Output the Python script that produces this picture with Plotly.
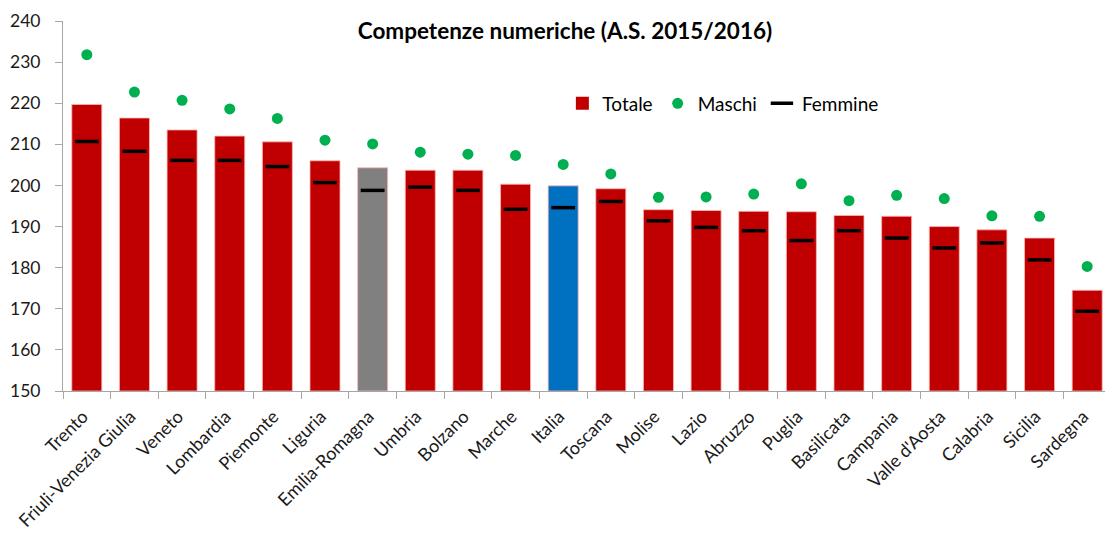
import plotly.graph_objects as go

regioni = ["Trento", "Friuli-Venezia Giulia", "Veneto", "Lombardia", "Piemonte", "Liguria",
           "Emilia-Romagna", "Umbria", "Bolzano", "Marche", "Italia", "Toscana", "Molise",
           "Lazio", "Abruzzo", "Puglia", "Basilicata", "Campania", "Valle d'Aosta",
           "Calabria", "Sicilia", "Sardegna"]
totale = [219.7, 216.4, 213.5, 212.0, 210.6, 206.0, 204.3, 203.7, 203.7, 200.3, 199.9, 199.2,
          194.1, 193.9, 193.7, 193.6, 192.7, 192.5, 190.0, 189.2, 187.2, 174.5]
maschi = [231.8, 222.7, 220.7, 218.6, 216.3, 211.0, 210.1, 208.1, 207.6, 207.3, 205.1, 202.8,
          197.1, 197.2, 197.9, 200.4, 196.3, 197.6, 196.8, 192.6, 192.5, 180.3]
femmine = [210.7, 208.3, 206.1, 206.1, 204.6, 200.7, 198.8, 199.6, 198.8, 194.2, 194.6, 196.1,
           191.4, 189.8, 189.0, 186.6, 189.0, 187.2, 184.8, 186.0, 181.9, 169.4]

RED = "#C00000"
colors = ["#808080" if r == "Emilia-Romagna" else "#0070C0" if r == "Italia" else RED
          for r in regioni]

FONT = "Lato, Open Sans, sans-serif"
W, H = 1105, 529  # page body has an 8px margin

fig = go.Figure()
fig.add_trace(go.Bar(
    x=regioni, y=[t - 150 for t in totale], base=150, name="Totale",
    marker=dict(color=colors, line=dict(color="rgba(255,180,180,0.8)", width=1)),
    showlegend=False, hoverinfo="skip"))
# legend proxy for Totale (red square)
fig.add_trace(go.Scatter(
    x=[None], y=[None], mode="markers", name="Totale",
    marker=dict(symbol="square", color=RED, size=13)))
fig.add_trace(go.Scatter(
    x=regioni, y=maschi, mode="markers", name="Maschi",
    marker=dict(symbol="circle", color="#00B050", size=11)))
fig.add_trace(go.Scatter(
    x=regioni, y=femmine, mode="markers", name="Femmine",
    marker=dict(symbol="line-ew", size=17, line=dict(color="black", width=3.5))))

fig.update_layout(
    width=W, height=H,
    margin=dict(l=52, r=2, t=10, b=146),
    plot_bgcolor="white", paper_bgcolor="white",
    font=dict(family=FONT, size=18, color="#1a1a1a"),
    bargap=0.37,
    title=dict(text="<b>Competenze numeriche (A.S. 2015/2016)</b>",
               x=0.479, xref="paper", xanchor="center",
               y=1 - 23 / H, yref="container", yanchor="middle",
               font=dict(family=FONT, size=22.5, color="black")),
    legend=dict(orientation="h", x=0.4765, xanchor="left", y=0.777, yanchor="middle",
                font=dict(family=FONT, size=19, color="black"),
                bgcolor="rgba(0,0,0,0)", itemwidth=30, tracegroupgap=0),
    showlegend=True,
)
fig.update_xaxes(
    type="category", tickangle=-45, showgrid=False,
    showline=True, linecolor="#a6a6a6", linewidth=1,
    ticks="outside", tickson="boundaries", ticklen=7, tickcolor="#a6a6a6",
    tickfont=dict(family=FONT, size=18, color="#1a1a1a"),
    ticklabelshift=-4, ticklabelstandoff=7, ticklabeloverflow="allow",
    range=[-0.5, len(regioni) - 0.5])
fig.update_yaxes(
    range=[150, 240], dtick=10, showgrid=False, zeroline=False,
    showline=True, linecolor="#a6a6a6", linewidth=1,
    ticks="outside", ticklen=7, tickcolor="#a6a6a6",
    ticklabelstandoff=11, ticklabeloverflow="allow",
    tickfont=dict(family=FONT, size=17.5, color="#1a1a1a"))

fig.write_html("out.html")
